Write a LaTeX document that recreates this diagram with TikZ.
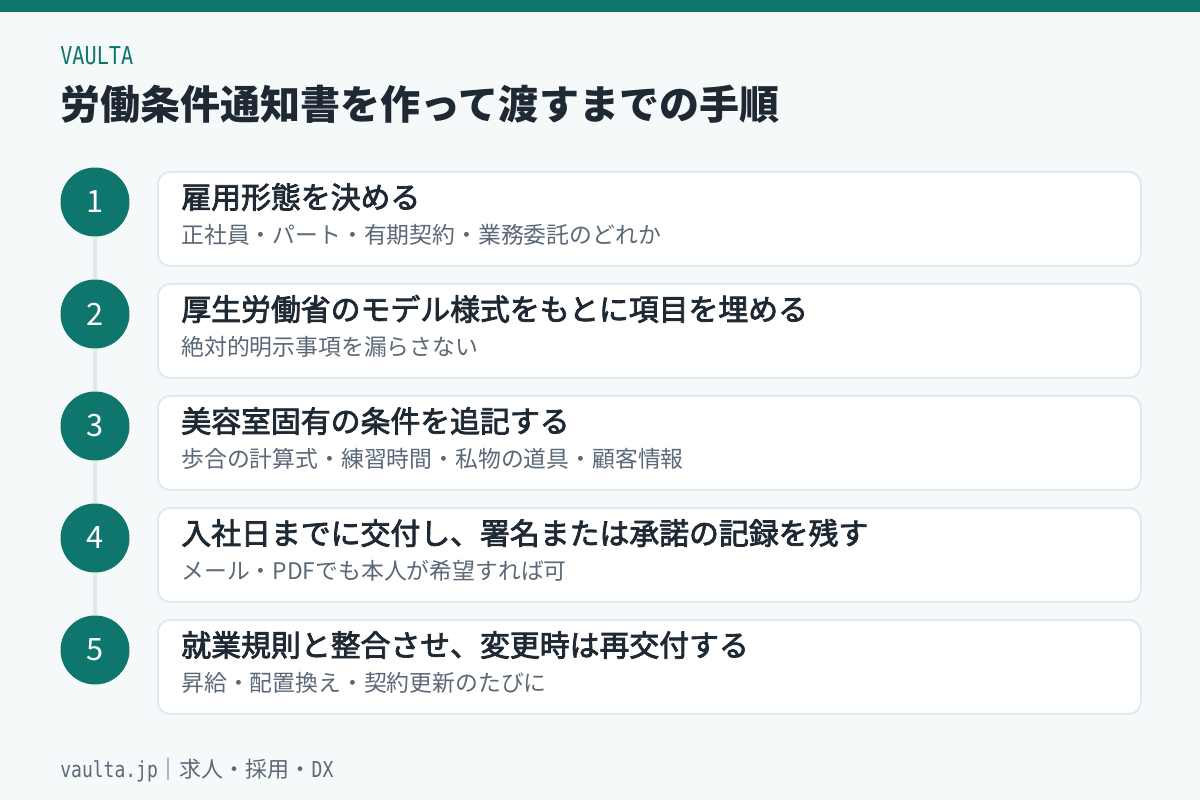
\documentclass[tikz,border=0pt]{standalone}
\usepackage{fontspec}
\setmainfont{Noto Sans CJK JP}
\newfontfamily\midweight[FakeBold=2.6]{Noto Sans CJK JP}
\newfontfamily\brandmono[FakeStretch=0.82]{DejaVu Sans Mono}
\usetikzlibrary{positioning,calc}
\definecolor{brandteal}{HTML}{0F766E}
\definecolor{paper}{HTML}{F5F9FA}
\definecolor{edge}{HTML}{E2E8F0}
\definecolor{ink}{HTML}{1F2933}
\definecolor{muted}{HTML}{5B6877}
\tikzset{
  cardbox/.style={draw=edge, line width=1.1pt, fill=white, rounded corners=0.24cm,
    anchor=north west, minimum width=19.66cm, minimum height=1.88cm, inner sep=0pt},
  stepdot/.style={circle, fill=brandteal, minimum size=1.38cm, inner sep=0pt,
    text=white, font=\fontsize{17.5}{17.5}\selectfont},
  linkline/.style={draw=edge, line width=2.3pt},
  steptitle/.style={anchor=west, inner sep=0pt, text=ink, font=\midweight\fontsize{17}{17}\selectfont},
  stepnote/.style={anchor=west, inner sep=0pt, text=muted, font=\fontsize{13}{13}\selectfont}
}

\begin{document}
\begin{tikzpicture}[x=0.02cm, y=-0.02cm]
\fill[paper] (0,0) rectangle (1200,800);
\fill[brandteal] (0,0) rectangle (1200,12);
\node[anchor=west, inner sep=0pt, text=brandteal, font=\brandmono\fontsize{14}{14}\selectfont] (brand) at (60,56) {VAULTA};
\node[anchor=west, inner sep=0pt, text=ink, font=\bfseries\fontsize{22.8}{22.8}\selectfont] (title) at (60,104) {労働条件通知書を作って渡すまでの手順};

\foreach \n/\ttl/\sub in {
  1/{雇用形態を決める}/{正社員・パート・有期契約・業務委託のどれか},
  2/{厚生労働省のモデル様式をもとに項目を埋める}/{絶対的明示事項を漏らさない},
  3/{美容室固有の条件を追記する}/{歩合の計算式・練習時間・私物の道具・顧客情報},
  4/{入社日までに交付し、署名または承諾の記録を残す}/{メール・PDFでも本人が希望すれば可},
  5/{就業規則と整合させ、変更時は再交付する}/{昇給・配置換え・契約更新のたびに}}
{
  \pgfmathsetmacro\yy{171+(\n-1)*112}
  \node[cardbox] (card\n) at (157,\yy) {};
  \node[stepdot] (dot\n) at (95,\yy+31) {\n};
  \node[steptitle] (ttl\n) at (181,\yy+26) {\ttl};
  \node[stepnote] (sub\n) at (181,\yy+64) {\sub};
}
\foreach \a/\b in {1/2,2/3,3/4,4/5}
  \draw[linkline] (dot\a) -- (dot\b);

\node[anchor=west, inner sep=0pt, text=muted, font=\fontsize{12.5}{12.5}\selectfont] (foot) at (60,770)
  {{\brandmono vaulta.jp}｜求人・採用・{\brandmono DX}};
\end{tikzpicture}
\end{document}
